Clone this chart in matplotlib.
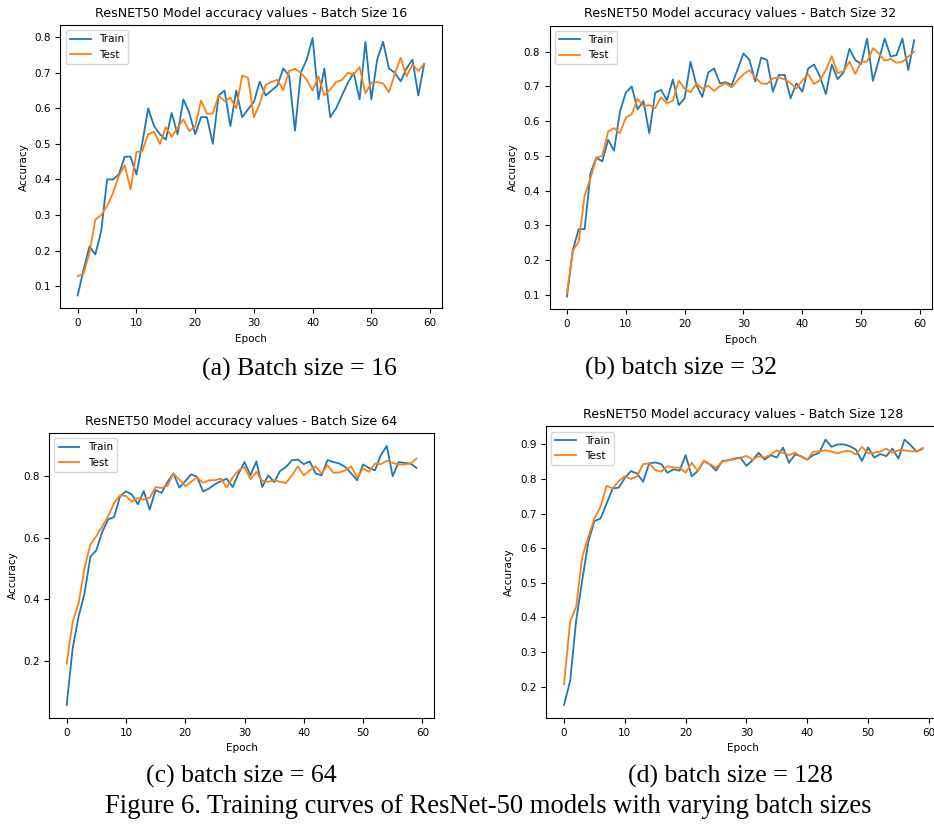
import numpy as np
import matplotlib
matplotlib.use("Agg")
import matplotlib.pyplot as plt

epochs = np.arange(60)

train_16 = [0.074, 0.147, 0.212, 0.189, 0.255, 0.40, 0.40, 0.414, 0.464, 0.464,
            0.414, 0.503, 0.60, 0.55, 0.527, 0.512, 0.587, 0.527, 0.625, 0.587,
            0.527, 0.575, 0.575, 0.50, 0.636, 0.65, 0.55, 0.65, 0.575, 0.597,
            0.618, 0.675, 0.636, 0.65, 0.664, 0.712, 0.692, 0.537, 0.70, 0.737,
            0.798, 0.625, 0.712, 0.575, 0.60, 0.636, 0.672, 0.70, 0.625, 0.787,
            0.625, 0.737, 0.787, 0.712, 0.70, 0.676, 0.712, 0.737, 0.636, 0.725]
test_16 = [0.128, 0.135, 0.194, 0.287, 0.30, 0.325, 0.362, 0.41, 0.44, 0.372,
           0.477, 0.48, 0.527, 0.534, 0.50, 0.547, 0.52, 0.545, 0.569, 0.536,
           0.548, 0.622, 0.585, 0.585, 0.636, 0.62, 0.63, 0.60, 0.692, 0.686,
           0.575, 0.613, 0.666, 0.674, 0.68, 0.651, 0.705, 0.711, 0.70, 0.68,
           0.65, 0.69, 0.636, 0.653, 0.674, 0.68, 0.70, 0.695, 0.716, 0.642,
           0.672, 0.674, 0.67, 0.645, 0.697, 0.742, 0.69, 0.723, 0.705, 0.725]

train_32 = [0.095, 0.229, 0.289, 0.289, 0.45, 0.495, 0.484, 0.546, 0.515, 0.627,
            0.682, 0.70, 0.634, 0.658, 0.565, 0.682, 0.69, 0.66, 0.72, 0.646,
            0.666, 0.771, 0.704, 0.67, 0.74, 0.752, 0.709, 0.712, 0.704, 0.749,
            0.795, 0.777, 0.714, 0.783, 0.776, 0.685, 0.733, 0.733, 0.666, 0.709,
            0.685, 0.752, 0.763, 0.728, 0.678, 0.763, 0.721, 0.74, 0.808, 0.776,
            0.764, 0.838, 0.716, 0.776, 0.838, 0.786, 0.79, 0.838, 0.747, 0.833]
test_32 = [0.105, 0.227, 0.253, 0.385, 0.436, 0.495, 0.50, 0.57, 0.58, 0.565,
           0.61, 0.62, 0.664, 0.644, 0.646, 0.637, 0.669, 0.651, 0.659, 0.717,
           0.693, 0.683, 0.709, 0.693, 0.702, 0.687, 0.701, 0.709, 0.697, 0.718,
           0.735, 0.747, 0.726, 0.709, 0.707, 0.723, 0.726, 0.72, 0.709, 0.694,
           0.717, 0.735, 0.707, 0.718, 0.747, 0.787, 0.738, 0.744, 0.771, 0.736,
           0.771, 0.771, 0.81, 0.795, 0.774, 0.779, 0.768, 0.771, 0.786, 0.80]

train_64 = [0.058, 0.241, 0.344, 0.419, 0.538, 0.559, 0.619, 0.659, 0.667, 0.734,
            0.75, 0.74, 0.708, 0.751, 0.691, 0.754, 0.745, 0.78, 0.808, 0.762,
            0.783, 0.805, 0.797, 0.75, 0.759, 0.773, 0.783, 0.791, 0.764, 0.808,
            0.845, 0.802, 0.847, 0.764, 0.802, 0.78, 0.816, 0.829, 0.851, 0.853,
            0.838, 0.847, 0.808, 0.802, 0.851, 0.845, 0.84, 0.829, 0.808, 0.786,
            0.837, 0.826, 0.818, 0.867, 0.897, 0.799, 0.845, 0.842, 0.84, 0.826]
test_64 = [0.192, 0.327, 0.387, 0.50, 0.579, 0.605, 0.637, 0.669, 0.713, 0.737,
           0.735, 0.716, 0.729, 0.723, 0.729, 0.764, 0.761, 0.768, 0.808, 0.788,
           0.767, 0.781, 0.795, 0.778, 0.786, 0.786, 0.791, 0.762, 0.795, 0.818,
           0.829, 0.789, 0.813, 0.784, 0.781, 0.786, 0.781, 0.777, 0.802, 0.831,
           0.802, 0.818, 0.831, 0.808, 0.835, 0.81, 0.811, 0.818, 0.831, 0.794,
           0.824, 0.813, 0.84, 0.838, 0.849, 0.842, 0.837, 0.837, 0.84, 0.856]

train_128 = [0.147, 0.216, 0.392, 0.508, 0.619, 0.678, 0.686, 0.729, 0.773, 0.775,
             0.803, 0.823, 0.816, 0.792, 0.845, 0.848, 0.843, 0.818, 0.828, 0.824,
             0.869, 0.808, 0.823, 0.852, 0.842, 0.824, 0.852, 0.854, 0.859, 0.862,
             0.838, 0.854, 0.876, 0.856, 0.869, 0.862, 0.891, 0.847, 0.871, 0.866,
             0.856, 0.869, 0.876, 0.914, 0.893, 0.90, 0.90, 0.895, 0.885, 0.852,
             0.891, 0.862, 0.872, 0.866, 0.888, 0.859, 0.914, 0.898, 0.879, 0.888]
test_128 = [0.207, 0.388, 0.431, 0.575, 0.633, 0.686, 0.72, 0.78, 0.773, 0.794,
            0.808, 0.80, 0.808, 0.843, 0.845, 0.826, 0.821, 0.837, 0.833, 0.833,
            0.818, 0.847, 0.823, 0.853, 0.843, 0.832, 0.85, 0.854, 0.857, 0.861,
            0.867, 0.856, 0.866, 0.862, 0.871, 0.883, 0.876, 0.869, 0.876, 0.864,
            0.856, 0.879, 0.88, 0.883, 0.879, 0.874, 0.88, 0.881, 0.871, 0.893,
            0.874, 0.876, 0.879, 0.888, 0.876, 0.883, 0.883, 0.88, 0.88, 0.89]

batch_sizes = [16, 32, 64, 128]
captions = ["(a) Batch size = 16", "(b) batch size = 32",
            "(c) batch size = 64", "(d) batch size = 128"]
figure_caption = "Figure 6. Training curves of ResNet-50 models with varying batch sizes"

W, H = 934, 825
fig = plt.figure(figsize=(W / 100, H / 100), dpi=100)

# axes boxes in pixels: left, right, top, bottom
boxes = [(60.4, 441.5, 25.0, 308.3),
         (549.6, 931.5, 25.6, 309.4),
         (49.2, 433.9, 433.0, 718.0),
         (546.1, 940.7, 426.3, 718.2)]
trains = [train_16, train_32, train_64, train_128]
tests = [test_16, test_32, test_64, test_128]

for bs, box, tr, te in zip(batch_sizes, boxes, trains, tests):
    l, r, t, b = box
    ax = fig.add_axes([l / W, 1 - b / H, (r - l) / W, (b - t) / H])
    ax.plot(epochs, tr, color="#1f77b4", lw=1.3, label="Train")
    ax.plot(epochs, te, color="#ff7f0e", lw=1.3, label="Test")
    ax.set_title("ResNET50 Model accuracy values - Batch Size %d" % bs, fontsize=9.1)
    ax.set_xlabel("Epoch", fontsize=7.5)
    ax.set_ylabel("Accuracy", fontsize=7.5)
    ax.tick_params(labelsize=7.5)
    ax.legend(loc="upper left", fontsize=7.5)

# sub captions (pixel centre x, baseline y)
cap_pos = [(299, 376), (681, 375), (241, 783), (730, 783)]
for txt, (x, y) in zip(captions, cap_pos):
    fig.text(x / W, 1 - y / H, txt, ha="center", va="baseline",
             family="Liberation Serif", fontsize=18.5)
fig.text(488 / W, 1 - 813 / H, figure_caption, ha="center", va="baseline",
         family="Liberation Serif", fontsize=19.2)

fig.savefig("out.png", dpi=100)
